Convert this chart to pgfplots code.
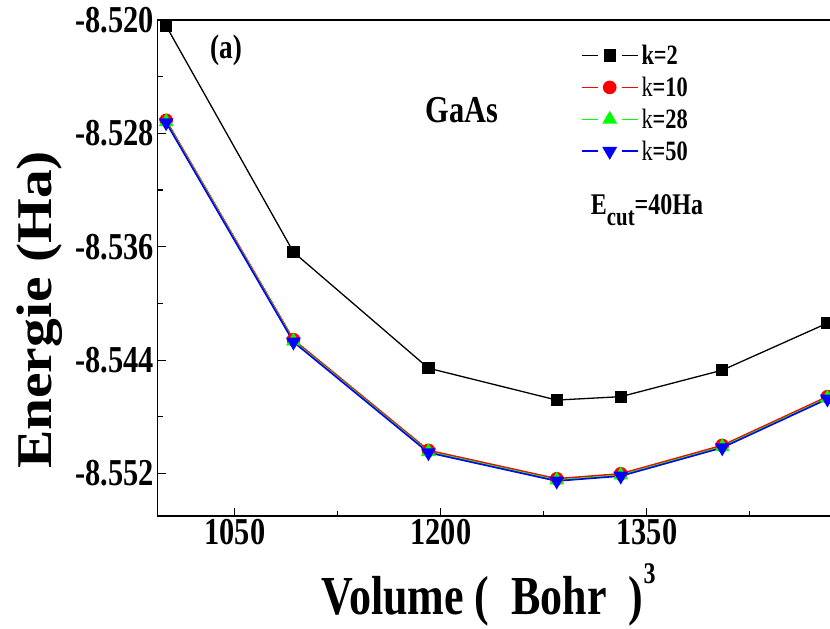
\documentclass[border=0pt]{standalone}
\usepackage{pgfplots}
\pgfplotsset{compat=1.18}
\usepackage{fontspec}
\setmainfont{Liberation Serif}[FakeStretch=0.8]
\newfontfamily\tallfont{Liberation Serif}[FakeStretch=1.15]
\newcommand{\fs}[1]{\fontsize{#1bp}{#1bp}\selectfont}

% filled triangle pointing down
\pgfdeclareplotmark{dtriangle*}{%
  \pgfpathmoveto{\pgfqpoint{0pt}{-\pgfplotmarksize}}%
  \pgfpathlineto{\pgfqpointpolar{150}{\pgfplotmarksize}}%
  \pgfpathlineto{\pgfqpointpolar{30}{\pgfplotmarksize}}%
  \pgfpathclose
  \pgfusepathqfillstroke}

\begin{document}
\begin{tikzpicture}
\useasboundingbox (-157.5bp,-113bp) rectangle (672.5bp,516bp);
\begin{axis}[
  at={(0,0)}, anchor=south west,
  scale only axis, width=700bp, height=496bp,
  xmin=993.7, xmax=1503.4, ymin=-8.555, ymax=-8.520,
  xtick={1050,1200,1350}, minor xtick={1125,1275,1425},
  ytick={-8.552,-8.544,-8.536,-8.528,-8.520},
  minor ytick={-8.548,-8.540,-8.532,-8.524},
  tick align=inside, xtick pos=bottom, ytick pos=left,
  major tick length=8bp, minor tick length=5bp,
  axis line style={line width=1.6bp},
  tick style={line width=1.2bp, black},
  ticklabel style={font=\bfseries\fs{38}},
  xticklabel style={/pgf/number format/.cd, 1000 sep={}, assume math mode=true},
  yticklabel style={/pgf/number format/.cd, fixed, fixed zerofill, precision=3, assume math mode=true},
  legend style={draw=none, fill=none, at={(rel axis cs:0.6046,0.956)}, anchor=north west,
    font=\fs{28}, row sep=5bp, inner sep=0pt, nodes={inner sep=3bp}},
  legend cell align=left,
  legend image code/.code={
    \draw[#1, mark=none] (0bp,0bp) -- (16bp,0bp);
    \draw[#1, mark=none] (40bp,0bp) -- (56bp,0bp);
    \draw[#1, only marks] plot coordinates {(28bp,0bp)};
  },
]
% k = 2
\addplot[black, line width=1.3bp, mark=square*, mark size=5.5bp] coordinates {
  (1000.0,-8.52042) (1092.7,-8.53638) (1191.0,-8.54457) (1284.4,-8.54682)
  (1331.0,-8.54658) (1404.9,-8.54471) (1481.5,-8.54139)};
\addlegendentry{\textbf{k=2}}
% k = 10
\addplot[red, line width=1.6bp, mark=*, mark size=6bp] coordinates {
  (1000.0,-8.52708) (1092.7,-8.54256) (1191.0,-8.55037) (1284.4,-8.55237)
  (1331.0,-8.55202) (1404.9,-8.55002) (1481.5,-8.54658)};
\addlegendentry{k\textbf{=10}}
% k = 28
\addplot[green, line width=1.6bp, mark=triangle*, mark size=7bp] coordinates {
  (1000.0,-8.52718) (1092.7,-8.54266) (1191.0,-8.55047) (1284.4,-8.55247)
  (1331.0,-8.55212) (1404.9,-8.55012) (1481.5,-8.54668)};
\addlegendentry{k\textbf{=28}}
% k = 50
\addplot[blue, line width=1.6bp, mark=dtriangle*, mark size=7bp] coordinates {
  (1000.0,-8.52724) (1092.7,-8.54272) (1191.0,-8.55053) (1284.4,-8.55253)
  (1331.0,-8.55218) (1404.9,-8.55018) (1481.5,-8.54674)};
\addlegendentry{k\textbf{=50}}
\end{axis}
% annotations
\node[font=\bfseries\fs{34}] at (68.5bp,466bp) {(a)};
\node[font=\bfseries\fs{38}] at (304.5bp,406bp) {GaAs};
\node[font=\bfseries\fs{30}] at (489.5bp,306bp) {E\raisebox{-0.35em}{\fs{26}cut}=40Ha};
% axis titles
\node[font=\bfseries\fs{55}, anchor=base, inner sep=0pt] at (331bp,-98bp) {Volume (\ \ Bohr\ \ )\raisebox{0.55em}{\fs{30}3}};
\node[rotate=90, font=\tallfont\bfseries\fs{50}] at (-117.5bp,206bp) {Energie (Ha)};
\end{tikzpicture}
\end{document}
